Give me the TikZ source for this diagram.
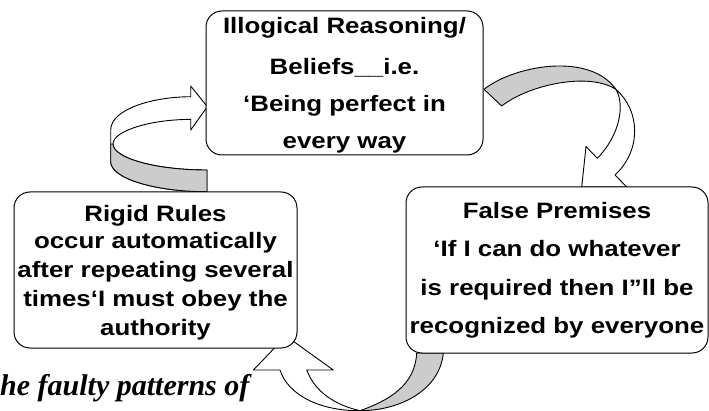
\documentclass[tikz,border=0pt]{standalone}
\usepackage{fontspec}
\newfontfamily\boxfont[FakeStretch=1.16]{Liberation Sans}
\newfontfamily\capfont{Liberation Serif}
\begin{document}
\begin{tikzpicture}[x=1pt,y=-1pt,
  box/.style={draw=black, line width=1pt, fill=white, rounded corners=16pt, inner sep=0pt},
  txt/.style={font=\boxfont\bfseries\fontsize{22.3}{26}\selectfont, anchor=base, inner sep=0pt},
  blk/.style={draw=black, line width=0.9pt, fill=white, line join=round},
  backface/.style={draw=black, line width=0.9pt, fill=black!20, line join=round}]
\useasboundingbox (0,0) rectangle (709,411);

% ---- left curved arrow (Rigid Rules -> Illogical Reasoning)
\draw[blk] (190.7,96.7) .. controls (150,97) and (110.7,110) .. (110.7,130)
  -- (110.7,161.7) .. controls (110.7,178) and (153.8,191.7) .. (207,191.7)
  -- (207,170) .. controls (155,170) and (113,158) .. (113,144)
  .. controls (113,131) and (150,119.4) .. (190.7,119.4)
  -- (190.7,130) -- (207.3,106.7) -- (190.7,86) -- cycle;
\draw[backface] (110.7,144) -- (110.7,161.7) .. controls (110.7,178) and (153.8,191.7) .. (207,191.7)
  -- (207,170) .. controls (155,170) and (113,158) .. (113,144) -- cycle;

% ---- top-right curved arrow (Illogical Reasoning -> False Premises)
\draw[blk] (616,89.5) .. controls (640,110) and (642,150) .. (615,175)
  -- (626.7,187) -- (581.7,187) -- (586,146.5) -- (597.3,158.3)
  .. controls (620,135) and (625,105) .. (616,89.5) -- cycle;
\draw[backface] (484,89.3) .. controls (515,65) and (590,52) .. (616,89.5)
  .. controls (590,72) and (530,84) .. (501.7,106) -- cycle;

% ---- bottom curved arrow (False Premises -> Rigid Rules)
\draw[backface] (416.7,353) -- (443.3,353) .. controls (440,390) and (400,410.7) .. (360,410.7)
  .. controls (390,400) and (415,385) .. (416.7,353) -- cycle;
\draw[blk] (360,410.7) .. controls (320,411) and (288,395) .. (280,370)
  -- (253.4,370) -- (286,336) -- (333.3,370) -- (306.7,370)
  .. controls (315,392) and (335,405) .. (360,410.7) -- cycle;

% ---- boxes
\node[box, minimum width=277pt, minimum height=144pt] (reason) at (344.5,83) {};
\node[box, minimum width=283pt, minimum height=156pt] (rules) at (155.5,270) {};
\node[box, minimum width=302pt, minimum height=166pt] (premises) at (557,270) {};

% ---- texts
\node[txt] (r1) at (344.5,33.5) {Illogical Reasoning/};
\node[txt] (r2) at (344.5,74.5) {Beliefs\_\_i.e.};
\node[txt] (r3) at (344.5,111.5) {‘Being perfect in};
\node[txt] (r4) at (344.5,148.5) {every way};

\node[txt] (g1) at (155.5,221.5) {Rigid Rules};
\node[txt] (g2) at (155.5,249) {occur automatically};
\node[txt] (g3) at (155.5,278) {after repeating several};
\node[txt] (g4) at (155.5,307) {times‘I must obey the};
\node[txt] (g5) at (155.5,335) {authority};

\node[txt] (p1) at (557,218.5) {False Premises};
\node[txt] (p2) at (557,257) {‘If I can do whatever};
\node[txt] (p3) at (557,296) {is required then I”ll be};
\node[txt] (p4) at (557,334) {recognized by everyone};

\node[font=\capfont\bfseries\itshape\fontsize{30}{32}\selectfont, anchor=base west, inner sep=0pt] (cap) at (0,395) {he faulty patterns of};
\end{tikzpicture}
\end{document}
